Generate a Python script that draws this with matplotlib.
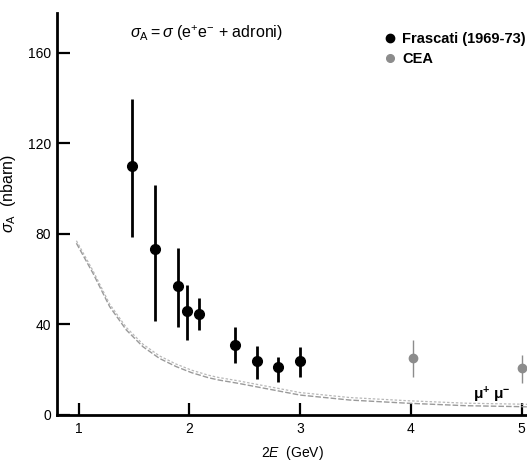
import numpy as np
import matplotlib
matplotlib.use('Agg')
import matplotlib.pyplot as plt
import matplotlib.transforms as mtransforms
from matplotlib.lines import Line2D

plt.rcParams['font.family'] = ['Liberation Sans', 'DejaVu Sans']
plt.rcParams['mathtext.fontset'] = 'custom'
plt.rcParams['mathtext.rm'] = 'Liberation Sans'
plt.rcParams['mathtext.it'] = 'Liberation Sans:italic'
plt.rcParams['mathtext.bf'] = 'Liberation Sans:bold'

# Frascati (1969-73)
fr_E = [1.48, 1.69, 1.90, 1.98, 2.09, 2.41, 2.61, 2.80, 3.00]
fr_sig = [110, 73.5, 57, 46, 44.5, 31, 24, 21, 24]
fr_top = [139.5, 101.7, 74, 57.3, 51.6, 38.8, 30.5, 25.8, 30.2]
fr_bot = [78.8, 41.7, 39, 33, 37.6, 23, 16, 14.5, 17]

# CEA
cea_E = [4.02, 5.00]
cea_sig = [25.3, 20.9]
cea_top = [33, 26.5]
cea_bot = [17, 14]

# mu+ mu- curve
mu_E = [0.98, 1.13, 1.28, 1.43, 1.58, 1.73, 1.88, 2.02, 2.17, 2.26, 2.44, 3.0, 3.45, 3.97, 4.5, 4.97, 5.05]
mu_sig = [75.9, 62.6, 47.9, 37.6, 30.2, 25.0, 21.4, 18.7, 16.5, 15.5, 14.0, 8.8, 6.6, 5.2, 4.1, 3.7, 3.6]

fig = plt.figure(figsize=(5.27, 4.63), dpi=100)
ax = fig.add_axes([0.108, 0.1037, 0.892, 0.869])

# double line for the mu+mu- cross section
ax.plot(mu_E, mu_sig, color='#9a9a9a', lw=1.0, ls=(0, (4, 1.5)))
shift = mtransforms.offset_copy(ax.transData, fig=fig, x=0, y=2.5, units='dots')
ax.plot(mu_E, mu_sig, color='#b8b8b8', lw=0.9, ls=(0, (2, 1.5)), transform=shift)

fr_err = [np.array(fr_sig) - np.array(fr_bot), np.array(fr_top) - np.array(fr_sig)]
cea_err = [np.array(cea_sig) - np.array(cea_bot), np.array(cea_top) - np.array(cea_sig)]

ax.errorbar(fr_E, fr_sig, yerr=fr_err, fmt='o', color='black', ms=7,
            elinewidth=2.0, capsize=0)
ax.errorbar(cea_E, cea_sig, yerr=cea_err, fmt='o', color='#8c8c8c', ms=6,
            elinewidth=1.0, capsize=0, clip_on=False)

ax.set_xlim(0.804, 5.048)
ax.set_ylim(0, 177.8)
ax.set_xticks([1, 2, 3, 4, 5])
ax.set_yticks([0, 40, 80, 120, 160])
ax.tick_params(direction='in', length=9, width=1.6, labelsize=10, pad=5)
ax.tick_params(axis='y', pad=4)
for s in ['top', 'right']:
    ax.spines[s].set_visible(False)
for s in ['left', 'bottom']:
    ax.spines[s].set_linewidth(2.0)

ax.set_xlabel(r'2$E$  (GeV)', fontsize=10, labelpad=6)
ax.set_ylabel(r'$\sigma_\mathrm{A}$  (nbarn)', fontsize=11.5, labelpad=6)
ax.yaxis.set_label_coords(-0.082, 0.55)

ax.text(0.155, 0.95, r'$\sigma_\mathrm{A} = \sigma$ (e$^{+}$e$^{-}$ + adroni)',
        transform=ax.transAxes, fontsize=11.5, va='center')
ax.text(0.885, 0.05, r'$\mathbf{\mu^{+}\ \mu^{-}}$', transform=ax.transAxes,
        fontsize=11, va='center')

h1 = Line2D([], [], ls='none', marker='o', color='black', ms=6)
h2 = Line2D([], [], ls='none', marker='o', color='#8c8c8c', ms=5.5)
ax.legend([h1, h2], ['Frascati (1969-73)', 'CEA'], loc='upper left',
          bbox_to_anchor=(0.672, 0.985), frameon=False, handlelength=0.6,
          handletextpad=0.5, labelspacing=0.45,
          prop={'weight': 'bold', 'size': 10.5})

fig.savefig('out.png', dpi=100)
